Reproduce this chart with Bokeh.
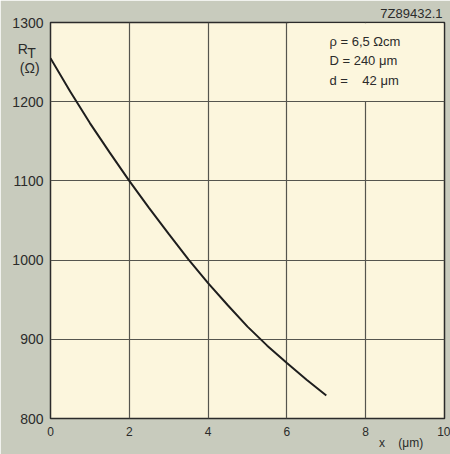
from bokeh.plotting import figure
from bokeh.models import FixedTicker, Label, LinearAxis
from bokeh.embed import file_html
from bokeh.resources import INLINE

NB = "\u00a0"

# Data
x_um = [0, 0.5, 1, 1.5, 2, 2.5, 3, 3.5, 4, 4.5, 5, 5.5, 6, 6.5, 7]
r_ohm = [1255, 1213, 1173, 1136, 1100, 1066, 1033, 1001, 971, 943, 916, 892, 870, 849, 829]
x_ticks = [0, 2, 4, 6, 8, 10]
y_ticks = [800, 900, 1000, 1100, 1200, 1300]
legend_lines = ["\u03c1" + NB + "=" + NB + "6,5" + NB + "\u03a9cm",
                "D" + NB + "=" + NB + "240" + NB + "\u03bcm",
                "d" + NB + "=" + NB * 4 + "42" + NB + "\u03bcm"]
code_text = "7Z89432.1"
x_title = "x" + NB * 4 + "(\u03bcm)"
y_title = ["R", "T", "(\u03a9)"]

BG = "#c8cbbd"
PANEL = "#fcf6dd"
INK = "#2b2b2b"
FONT = "Liberation Sans"

W, H = 450, 454
p = figure(width=W, height=H, x_range=(0, 10), y_range=(800, 1300),
           output_backend="svg", toolbar_location=None,
           min_border_left=50, min_border_right=6,
           min_border_top=22, min_border_bottom=36)
p.background_fill_color = PANEL
p.border_fill_color = BG
p.outline_line_color = INK
p.outline_line_width = 1.5

# title carries the drawing code at top right
p.title.text = code_text
p.title.align = "right"
p.title.text_font = FONT
p.title.text_font_size = "13px"
p.title.text_font_style = "normal"
p.title.text_color = INK
p.title.standoff = 4
p.title.offset = 2

# x axis numbers
p.xaxis.ticker = FixedTicker(ticks=x_ticks)

# y axis: numbers plus R_T (Ω) label at the top left
y_title_pos = [1267, 1261, 1243]
p.yaxis.ticker = FixedTicker(ticks=y_ticks + y_title_pos)
p.yaxis.major_label_overrides = {
    y_title_pos[0]: y_title[0] + NB * 4,
    y_title_pos[1]: y_title[1] + NB * 2,
    y_title_pos[2]: y_title[2] + NB * 1,
}

# second bottom axis that only carries the x title, tucked under the numbers
x_title_pos = 8.9
ax2 = LinearAxis(ticker=FixedTicker(ticks=[x_title_pos]),
                 major_label_overrides={x_title_pos: x_title})
p.add_layout(ax2, "below")

for ax in (p.xaxis[0], ax2, p.yaxis[0]):
    ax.axis_line_color = None
    ax.major_tick_line_color = None
    ax.minor_tick_line_color = None
    ax.major_tick_out = 0
    ax.major_tick_in = 0
    ax.minor_tick_out = 0
    ax.minor_tick_in = 0
    ax.major_label_text_font = FONT
    ax.major_label_text_color = INK
p.xaxis[0].major_label_text_font_size = "12px"
ax2.major_label_text_font_size = "12px"
p.yaxis.major_label_text_font_size = "14px"
p.xaxis[0].major_label_standoff = 8
ax2.major_label_standoff = -3
p.yaxis.major_label_standoff = 7

p.xgrid.ticker = FixedTicker(ticks=x_ticks)
p.ygrid.ticker = FixedTicker(ticks=y_ticks)
for g in (p.xgrid, p.ygrid):
    g.grid_line_color = "#55554e"
    g.grid_line_width = 1.2
    g.grid_line_alpha = 1.0

# legend box covering the cell x 6..10, y 1200..1300
p.quad(left=[6.04], right=[9.97], bottom=[1201], top=[1299],
       fill_color=PANEL, line_color=None)

p.line(x_um, r_ohm, line_color="#1e1e1e", line_width=2)

legend_y = [1276, 1251.5, 1227]
for t, yy in zip(legend_lines, legend_y):
    p.add_layout(Label(x=7.08, y=yy, text=t, text_font=FONT, text_font_size="13px",
                       text_color=INK, text_align="left", text_baseline="middle"))

open("out.html", "w").write(file_html(p, INLINE))
